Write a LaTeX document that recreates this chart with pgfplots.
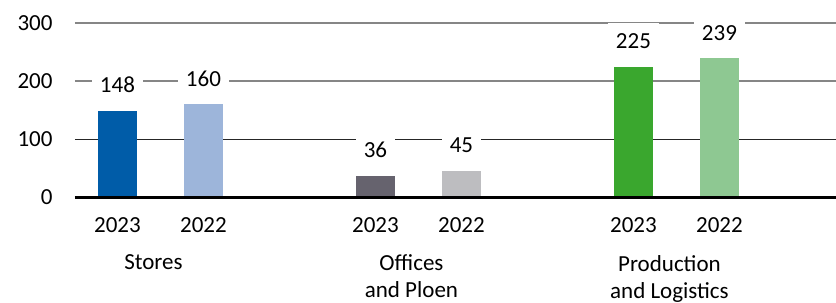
\documentclass[border=0pt]{standalone}
\usepackage{pgfplots}
\pgfplotsset{compat=1.18}
\usepackage{fontspec}
\setmainfont{Carlito}
\definecolor{cA}{RGB}{0,92,168}
\definecolor{cB}{RGB}{157,181,218}
\definecolor{cC}{RGB}{102,99,110}
\definecolor{cD}{RGB}{189,189,192}
\definecolor{cE}{RGB}{58,167,46}
\definecolor{cF}{RGB}{142,200,146}
\begin{document}
\begin{tikzpicture}
\path[use as bounding box] (-37.5pt,-52.5pt) rectangle (380.5pt,98.5pt);
\begin{axis}[
  at={(0pt,0pt)}, anchor=south west,
  width=380.5pt, height=87pt, scale only axis,
  xmin=-0.494, xmax=8.355, ymin=0, ymax=300,
  axis line style={draw=none},
  major tick length=0pt,
  ytick={0,200,300},
  extra y ticks={100},
  extra y tick style={grid style={black!85, line width=0.5pt}},
  ymajorgrids,
  grid style={gray!95, line width=0.7pt},
  xtick={0,1,3,4,6,7},
  xticklabels={2023,2022,2023,2022,2023,2022},
  extra x ticks={0.5,3.5,6.5},
  extra x tick labels={Stores,{Offices\\and Ploen},{Production\\and Logistics}},
  extra x tick style={xmajorgrids=false, tick label style={align=center, yshift=-18.5pt, xshift=-3.5pt}},
  xticklabel style={yshift=-7pt},
  yticklabel style={xshift=-7.7pt},
  tick label style={font=\fontsize{11.5}{13.5}\selectfont},
  /pgf/number format/assume math mode=true,
  ybar, bar width=19.5pt,
  nodes near coords,
  nodes near coords style={font=\fontsize{11.5}{13.5}\selectfont, fill=white, inner xsep=4pt, inner ysep=5pt, anchor=south, yshift=3.8pt},
  clip=false,
]
\addplot[fill=cA, draw=none, bar shift=0pt] coordinates {(0,148)};
\addplot[fill=cB, draw=none, bar shift=0pt] coordinates {(1,160)};
\addplot[fill=cC, draw=none, bar shift=0pt] coordinates {(3,36)};
\addplot[fill=cD, draw=none, bar shift=0pt] coordinates {(4,45)};
\addplot[fill=cE, draw=none, bar shift=0pt] coordinates {(6,225)};
\addplot[fill=cF, draw=none, bar shift=0pt] coordinates {(7,239)};
\draw[black, line width=1.5pt] (axis cs:-0.494,0) -- (axis cs:8.355,0);
\end{axis}
\end{tikzpicture}
\end{document}
